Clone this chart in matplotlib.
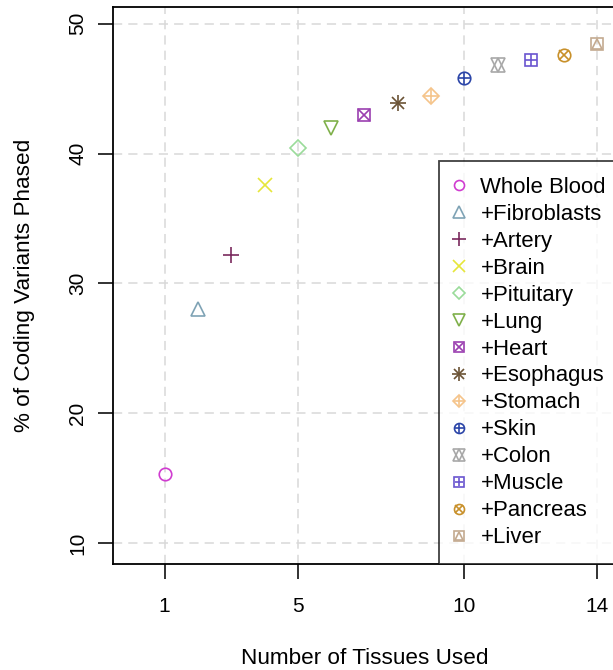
import matplotlib.pyplot as plt
from matplotlib.lines import Line2D
from matplotlib.legend_handler import HandlerTuple

plt.rcParams['font.family'] = ['Liberation Sans', 'DejaVu Sans']

# data
tissues = ["Whole Blood", "+Fibroblasts", "+Artery", "+Brain", "+Pituitary", "+Lung",
           "+Heart", "+Esophagus", "+Stomach", "+Skin", "+Colon", "+Muscle",
           "+Pancreas", "+Liver"]
n_tissues = [1, 2, 3, 4, 5, 6, 7, 8, 9, 10, 11, 12, 13, 14]
pct_phased = [15.3, 28.0, 32.2, 37.6, 40.4, 42.0, 43.0, 43.9, 44.4, 45.8,
              46.8, 47.2, 47.6, 48.4]
colors = ["#D03CD0", "#7FA3B5", "#7A2A5E", "#E6E63A", "#9ADB9A", "#7FB04A",
          "#9B3FB0", "#6B5335", "#F5C48A", "#2B45A8", "#A8A8A8", "#6A55D0",
          "#C8902A", "#C4AA90"]
# R pch 1..14 built from overlaid matplotlib markers (marker, size)
markers = [[("o", 9)], [("^", 10)], [("+", 12)], [("x", 10)], [("D", 8)], [("v", 10)],
           [("s", 9), ("x", 8)], [("+", 12), ("x", 9)], [("D", 8), ("+", 11)],
           [("o", 9), ("+", 9)], [("^", 10), ("v", 10)], [("s", 9), ("+", 8)],
           [("o", 9), ("x", 6.5)], [("s", 9), ("^", 6.5)]]

fig = plt.figure(figsize=(6.13, 6.70), dpi=100)
ax = fig.add_axes([0.185, 0.158, 0.82, 0.832])

handles = []
for i in range(len(tissues)):
    parts = []
    for m, ms in markers[i]:
        ax.plot(n_tissues[i], pct_phased[i], linestyle="none", marker=m,
                markersize=ms, markerfacecolor="none", markeredgecolor=colors[i],
                markeredgewidth=1.2, zorder=3)
        parts.append(Line2D([], [], linestyle="none", marker=m, markersize=ms,
                            markerfacecolor="none", markeredgecolor=colors[i],
                            markeredgewidth=1.2))
    handles.append(tuple(parts))

ax.set_xlim(-0.54, 14.56)
ax.set_ylim(8.4, 51.3)
ax.set_xticks([1, 5, 10, 14])
ax.set_yticks([10, 20, 30, 40, 50])
ax.grid(True, color="#D8D8D8", linestyle=(0, (6, 4)), linewidth=1.1)
ax.set_axisbelow(True)
for s in ax.spines.values():
    s.set_linewidth(1.3)
ax.tick_params(axis="both", labelsize=15, length=11, width=1.3, color="#222222")
ax.tick_params(axis="x", pad=13)
ax.tick_params(axis="y", pad=8)
for lab in ax.get_yticklabels():
    lab.set_rotation(90)
    lab.set_va("center")

ax.set_xlabel("Number of Tissues Used", fontsize=16.2, labelpad=23)
ax.set_ylabel("% of Coding Variants Phased", fontsize=16.2, labelpad=24)

leg = ax.legend(handles, tissues, handler_map={tuple: HandlerTuple(ndivide=1)},
                loc="lower left", bbox_to_anchor=(0.648, 0.0), fontsize=15.9,
                frameon=True, fancybox=False, edgecolor="#111111",
                borderaxespad=0, handlelength=0.4, handletextpad=0.75,
                labelspacing=0.27, markerscale=0.8, borderpad=0.72)
leg.get_frame().set_linewidth(1.3)

fig.savefig("out.png", dpi=100)
